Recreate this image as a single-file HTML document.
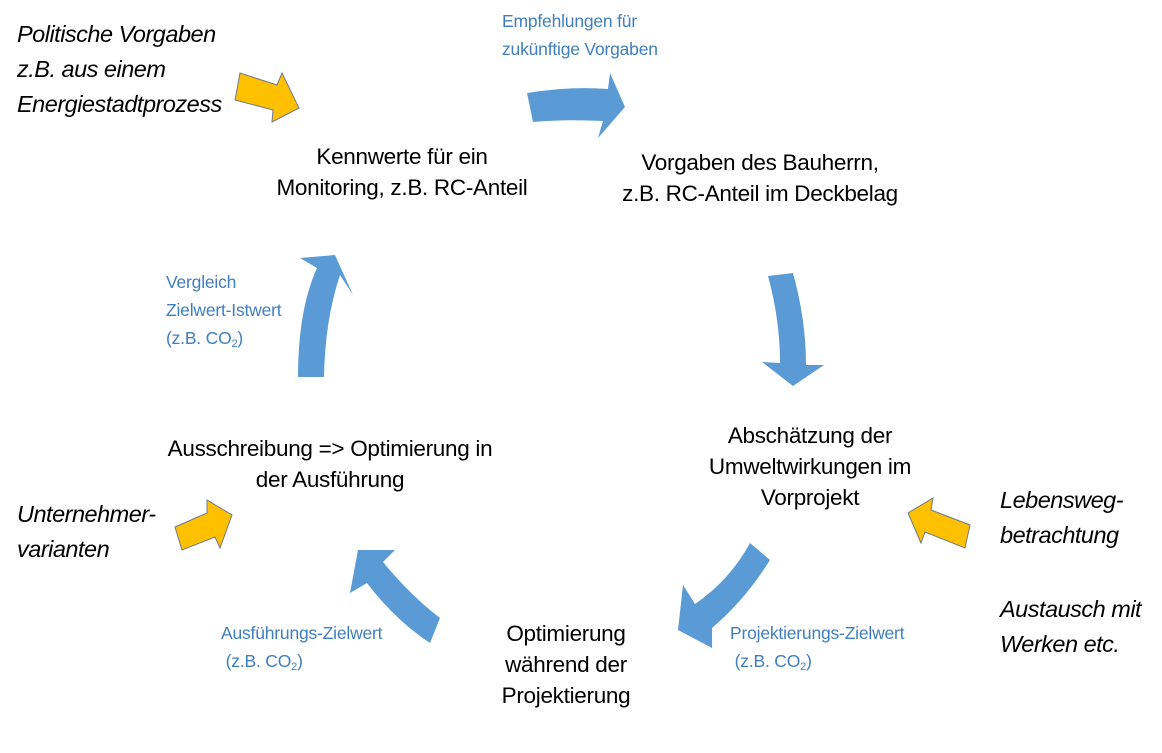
<!DOCTYPE html>
<html><head><meta charset="utf-8"><style>
body{margin:0;width:1162px;height:753px;background:#fff;position:relative;overflow:hidden;font-family:"Liberation Sans",sans-serif}
.t{position:absolute;color:#000;font-size:22.5px;line-height:31px;text-align:center;white-space:nowrap;letter-spacing:-0.3px}
.i{position:absolute;color:#000;font-size:23.5px;line-height:35px;font-style:italic;white-space:nowrap;letter-spacing:-0.5px}
.b{position:absolute;color:#3f7fbf;font-size:17.5px;line-height:28px;white-space:nowrap;letter-spacing:-0.2px}
sub{font-size:11px;vertical-align:-3px;line-height:0}
</style></head><body>
<svg width="1162" height="753" style="position:absolute;left:0;top:0">
<g fill="#5b9bd5">
<path d="M527,93 Q570,86 608,89 L610,73 L625,107 L598,138 L603,121 Q565,119 533,122 Z"/>
<path d="M768,276 L793,273 Q806,320 806,365 L824,365 L793,386 L762,362 L780,363 Q780,320 768,276 Z"/>
<path d="M750,543 L770,560 Q745,600 712,628 L712,648 L678,630 L683,585 L695,604 Q730,580 750,543 Z"/>
<path d="M358,550 L395,550 L383,562 Q410,595 440,618 L430,643 Q395,620 367,583 L350,593 Z"/>
<path d="M298,377 Q298,310 317,268 L300,258 L335,255 L353,295 L340,275 Q325,320 324,377 Z"/>
</g>
<g fill="#ffc000" stroke="#6b7b8c" stroke-width="1">
<path d="M240,73 L277,85 L282,73 L299,108 L272,122 L273,110 L235,100 Z"/>
<path d="M175,527 L207,513 L207,500 L232,515 L220,548 L215,537 L182,550 Z"/>
<path d="M908,513 L933,498 L931,510 L970,525 L965,548 L925,532 L921,543 Z"/>
</g>
</svg>
<div class="i" style="left:17px;top:17px">Politische Vorgaben<br>z.B. aus einem<br>Energiestadtprozess</div>
<div class="t" style="left:242px;top:141px;width:320px">Kennwerte für ein<br>Monitoring, z.B. RC-Anteil</div>
<div class="b" style="left:502px;top:7px">Empfehlungen für<br>zukünftige Vorgaben</div>
<div class="t" style="left:580px;top:147px;width:360px">Vorgaben des Bauherrn,<br>z.B. RC-Anteil im Deckbelag</div>
<div class="b" style="left:166px;top:268px">Vergleich<br>Zielwert-Istwert<br>(z.B. CO<sub>2</sub>)</div>
<div class="t" style="left:120px;top:433px;width:420px">Ausschreibung =&gt; Optimierung in<br>der Ausführung</div>
<div class="t" style="left:660px;top:420px;width:300px">Abschätzung der<br>Umweltwirkungen im<br>Vorprojekt</div>
<div class="i" style="left:17px;top:497px">Unternehmer-<br>varianten</div>
<div class="i" style="left:1000px;top:483px">Lebensweg-<br>betrachtung</div>
<div class="i" style="left:1000px;top:592px">Austausch mit<br>Werken etc.</div>
<div class="b" style="left:221px;top:619px">Ausführungs-Zielwert<br>&nbsp;(z.B. CO<sub>2</sub>)</div>
<div class="t" style="left:456px;top:618px;width:220px">Optimierung<br>während der<br>Projektierung</div>
<div class="b" style="left:730px;top:619px">Projektierungs-Zielwert<br>&nbsp;(z.B. CO<sub>2</sub>)</div>
</body></html>
